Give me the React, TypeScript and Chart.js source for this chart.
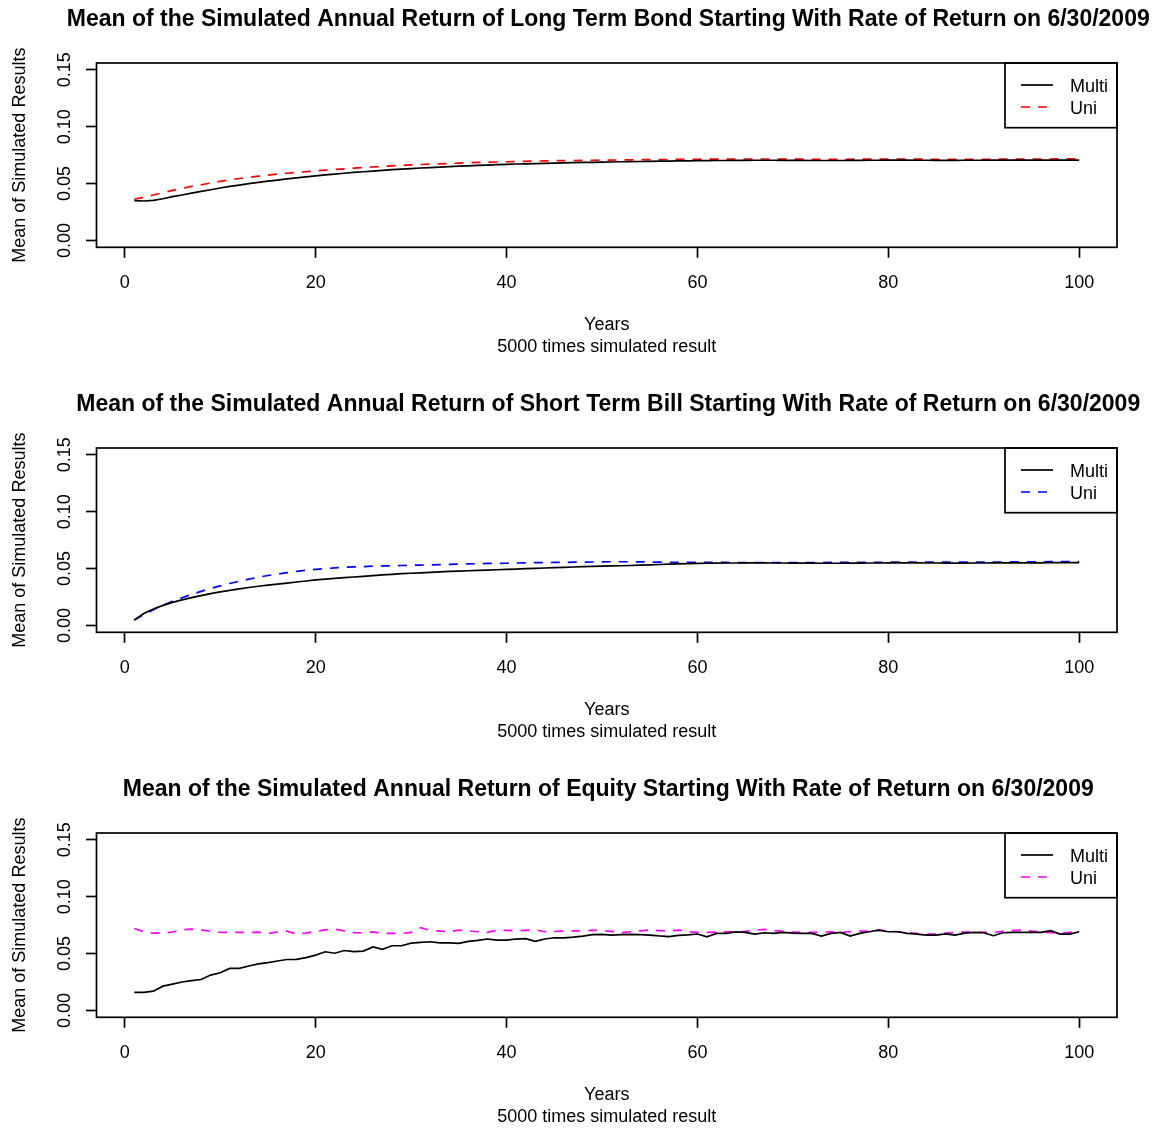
import React, { useEffect, useRef } from "react";
import { Chart, registerables } from "chart.js";

Chart.register(...registerables);

const FONT = "'Liberation Sans', Arial, Helvetica, sans-serif";

const years = Array.from({ length: 100 }, (_, i) => i + 1);
const xTicks = [0, 20, 40, 60, 80, 100];
const yTicks = [0, 0.05, 0.1, 0.15];
const xRange = [-2.96, 103.96];
const yRange = [-0.006, 0.156];

const seriesLabels = ["Multi", "Uni"];
const yAxisTitle = "Mean of Simulated Results";
const xAxisTitle = ["Years", "5000 times simulated result"];

const panelTitles = [
  "Mean of the Simulated Annual Return of Long Term Bond Starting With Rate of Return on 6/30/2009",
  "Mean of the Simulated Annual Return of Short Term Bill Starting With Rate of Return on 6/30/2009",
  "Mean of the Simulated Annual Return of Equity Starting With Rate of Return on 6/30/2009",
];
const uniColors = ["#FF0000", "#0000FF", "#FF00FF"];

const bondMulti = [
  0.0350, 0.0347, 0.0353, 0.0367, 0.0385, 0.0400, 0.0416, 0.0431, 0.0446, 0.0461,
  0.0475, 0.0487, 0.0499, 0.0510, 0.0521, 0.0531, 0.0541, 0.0550, 0.0559, 0.0568,
  0.0576, 0.0584, 0.0591, 0.0598, 0.0604, 0.0610, 0.0616, 0.0622, 0.0627, 0.0632,
  0.0637, 0.0641, 0.0645, 0.0649, 0.0653, 0.0656, 0.0660, 0.0663, 0.0666, 0.0669,
  0.0672, 0.0674, 0.0676, 0.0678, 0.0680, 0.0682, 0.0684, 0.0686, 0.0687, 0.0689,
  0.0690, 0.0692, 0.0693, 0.0694, 0.0696, 0.0697, 0.0698, 0.0699, 0.0700, 0.0701,
  0.0702, 0.0703, 0.0703, 0.0704, 0.0704, 0.0705, 0.0705, 0.0705, 0.0704, 0.0704,
  0.0704, 0.0703, 0.0703, 0.0703, 0.0703, 0.0704, 0.0704, 0.0705, 0.0705, 0.0706,
  0.0706, 0.0706, 0.0705, 0.0705, 0.0704, 0.0704, 0.0704, 0.0705, 0.0705, 0.0705,
  0.0706, 0.0706, 0.0706, 0.0707, 0.0707, 0.0707, 0.0707, 0.0707, 0.0707, 0.0707,
];

const bondUni = [
  0.0362, 0.0380, 0.0400, 0.0420, 0.0440, 0.0458, 0.0475, 0.0490, 0.0505, 0.0520,
  0.0533, 0.0545, 0.0555, 0.0565, 0.0574, 0.0583, 0.0591, 0.0598, 0.0605, 0.0612,
  0.0618, 0.0624, 0.0630, 0.0636, 0.0641, 0.0646, 0.0651, 0.0656, 0.0660, 0.0664,
  0.0668, 0.0671, 0.0674, 0.0677, 0.0680, 0.0683, 0.0686, 0.0688, 0.0690, 0.0692,
  0.0694, 0.0696, 0.0698, 0.0699, 0.0701, 0.0702, 0.0703, 0.0704, 0.0705, 0.0706,
  0.0707, 0.0708, 0.0709, 0.0710, 0.0711, 0.0711, 0.0712, 0.0713, 0.0713, 0.0714,
  0.0715, 0.0715, 0.0715, 0.0716, 0.0716, 0.0716, 0.0716, 0.0716, 0.0715, 0.0715,
  0.0715, 0.0714, 0.0714, 0.0714, 0.0714, 0.0714, 0.0715, 0.0715, 0.0715, 0.0716,
  0.0716, 0.0716, 0.0715, 0.0714, 0.0713, 0.0713, 0.0713, 0.0713, 0.0714, 0.0714,
  0.0714, 0.0715, 0.0715, 0.0715, 0.0716, 0.0716, 0.0716, 0.0717, 0.0717, 0.0717,
];

const billMulti = [
  0.0048, 0.0105, 0.0145, 0.0177, 0.0203, 0.0225, 0.0245, 0.0263, 0.0280, 0.0295,
  0.0309, 0.0322, 0.0334, 0.0345, 0.0355, 0.0364, 0.0373, 0.0382, 0.0391, 0.0400,
  0.0407, 0.0414, 0.0420, 0.0426, 0.0432, 0.0438, 0.0444, 0.0450, 0.0455, 0.0459,
  0.0463, 0.0467, 0.0471, 0.0475, 0.0478, 0.0481, 0.0484, 0.0487, 0.0490, 0.0493,
  0.0496, 0.0499, 0.0502, 0.0505, 0.0508, 0.0511, 0.0514, 0.0517, 0.0519, 0.0521,
  0.0523, 0.0525, 0.0527, 0.0530, 0.0533, 0.0536, 0.0539, 0.0542, 0.0544, 0.0546,
  0.0547, 0.0548, 0.0549, 0.0549, 0.0550, 0.0550, 0.0550, 0.0549, 0.0549, 0.0548,
  0.0548, 0.0548, 0.0547, 0.0547, 0.0547, 0.0548, 0.0548, 0.0549, 0.0549, 0.0550,
  0.0550, 0.0550, 0.0550, 0.0549, 0.0549, 0.0548, 0.0548, 0.0548, 0.0549, 0.0549,
  0.0550, 0.0550, 0.0550, 0.0551, 0.0551, 0.0551, 0.0552, 0.0552, 0.0552, 0.0552,
];

const billUni = [
  0.0048, 0.0095, 0.0138, 0.0177, 0.0212, 0.0244, 0.0273, 0.0300, 0.0325, 0.0348,
  0.0369, 0.0389, 0.0407, 0.0424, 0.0439, 0.0452, 0.0464, 0.0475, 0.0485, 0.0493,
  0.0500, 0.0506, 0.0511, 0.0515, 0.0518, 0.0521, 0.0523, 0.0525, 0.0527, 0.0529,
  0.0531, 0.0533, 0.0535, 0.0537, 0.0539, 0.0541, 0.0543, 0.0545, 0.0546, 0.0547,
  0.0549, 0.0550, 0.0552, 0.0553, 0.0554, 0.0555, 0.0556, 0.0557, 0.0558, 0.0559,
  0.0560, 0.0560, 0.0560, 0.0559, 0.0558, 0.0557, 0.0556, 0.0555, 0.0555, 0.0555,
  0.0555, 0.0554, 0.0554, 0.0553, 0.0553, 0.0553, 0.0553, 0.0553, 0.0553, 0.0553,
  0.0553, 0.0553, 0.0553, 0.0554, 0.0554, 0.0554, 0.0555, 0.0555, 0.0555, 0.0556,
  0.0556, 0.0556, 0.0556, 0.0556, 0.0556, 0.0556, 0.0557, 0.0557, 0.0557, 0.0558,
  0.0558, 0.0558, 0.0559, 0.0559, 0.0560, 0.0560, 0.0561, 0.0561, 0.0561, 0.0561,
];

const equityMulti = [
  0.0159, 0.0159, 0.0170, 0.0214, 0.0232, 0.0250, 0.0262, 0.0272, 0.0311, 0.0332,
  0.0370, 0.0370, 0.0391, 0.0409, 0.0421, 0.0435, 0.0448, 0.0449, 0.0465, 0.0487,
  0.0516, 0.0503, 0.0527, 0.0517, 0.0522, 0.0558, 0.0537, 0.0569, 0.0569, 0.0592,
  0.0598, 0.0604, 0.0595, 0.0595, 0.0590, 0.0607, 0.0616, 0.0628, 0.0619, 0.0619,
  0.0628, 0.0631, 0.0607, 0.0628, 0.0639, 0.0639, 0.0645, 0.0654, 0.0666, 0.0669,
  0.0663, 0.0666, 0.0669, 0.0666, 0.0663, 0.0655, 0.0650, 0.0660, 0.0665, 0.0672,
  0.0648, 0.0677, 0.0677, 0.0690, 0.0686, 0.0672, 0.0683, 0.0677, 0.0686, 0.0680,
  0.0677, 0.0677, 0.0654, 0.0677, 0.0686, 0.0654, 0.0677, 0.0692, 0.0707, 0.0692,
  0.0692, 0.0677, 0.0671, 0.0663, 0.0663, 0.0674, 0.0663, 0.0680, 0.0686, 0.0683,
  0.0657, 0.0683, 0.0686, 0.0686, 0.0686, 0.0686, 0.0701, 0.0671, 0.0671, 0.0692,
];

const equityUni = [
  0.0720, 0.0692, 0.0680, 0.0680, 0.0690, 0.0710, 0.0715, 0.0708, 0.0696, 0.0688,
  0.0686, 0.0686, 0.0686, 0.0688, 0.0676, 0.0690, 0.0698, 0.0672, 0.0680, 0.0695,
  0.0708, 0.0715, 0.0700, 0.0685, 0.0680, 0.0690, 0.0676, 0.0678, 0.0677, 0.0686,
  0.0727, 0.0705, 0.0698, 0.0692, 0.0707, 0.0700, 0.0692, 0.0686, 0.0704, 0.0704,
  0.0700, 0.0704, 0.0709, 0.0692, 0.0695, 0.0698, 0.0700, 0.0698, 0.0707, 0.0702,
  0.0695, 0.0683, 0.0692, 0.0700, 0.0707, 0.0702, 0.0698, 0.0707, 0.0692, 0.0686,
  0.0686, 0.0688, 0.0692, 0.0692, 0.0695, 0.0705, 0.0713, 0.0702, 0.0695, 0.0690,
  0.0686, 0.0686, 0.0688, 0.0692, 0.0686, 0.0692, 0.0698, 0.0698, 0.0707, 0.0700,
  0.0692, 0.0686, 0.0677, 0.0671, 0.0671, 0.0680, 0.0686, 0.0690, 0.0692, 0.0686,
  0.0686, 0.0695, 0.0702, 0.0707, 0.0698, 0.0690, 0.0684, 0.0677, 0.0686, 0.0698,
];

const panels = [
  { title: panelTitles[0], multi: bondMulti, uni: bondUni, color: uniColors[0] },
  { title: panelTitles[1], multi: billMulti, uni: billUni, color: uniColors[1] },
  { title: panelTitles[2], multi: equityMulti, uni: equityUni, color: uniColors[2] },
];

const CANVAS_W = 1163;
const CANVAS_H = 362;
const PANEL_STEP = 385;
const LINE_W = 1.7;

const decorPlugin = {
  id: "panelDecor",
  afterDraw(chart: any, _args: any, opts: any) {
    const { ctx, chartArea } = chart;
    const { left, right, top, bottom } = chartArea;
    ctx.save();
    // plot box
    ctx.strokeStyle = "#000";
    ctx.lineWidth = LINE_W;
    ctx.setLineDash([]);
    ctx.strokeRect(left, top, right - left, bottom - top);

    // title
    ctx.fillStyle = "#000";
    ctx.font = `bold 23px ${FONT}`;
    ctx.textAlign = "center";
    ctx.textBaseline = "middle";
    ctx.fillText(opts.title, (left + right) / 2 + 1.5, 20);

    // legend
    const lw = 112;
    const lh = 64.7;
    const lx = right - lw;
    ctx.strokeRect(lx, top, lw, lh);
    ctx.font = `18px ${FONT}`;
    ctx.textAlign = "left";
    chart.data.datasets.forEach((ds: any, i: number) => {
      const y = top + 22 + i * 22;
      ctx.beginPath();
      ctx.strokeStyle = ds.borderColor;
      ctx.lineWidth = ds.borderWidth;
      ctx.setLineDash(ds.borderDash || []);
      ctx.moveTo(lx + 16, y);
      ctx.lineTo(lx + 48, y);
      ctx.stroke();
      ctx.fillStyle = "#000";
      ctx.fillText(ds.label, lx + 65, y + 1.8);
    });
    ctx.restore();
  },
};

function Panel({ cfg, top }: { cfg: any; top: number }) {
  const ref = useRef<HTMLCanvasElement>(null);
  useEffect(() => {
    const gridOpts = {
      display: true,
      drawOnChartArea: false,
      drawTicks: true,
      tickLength: 10.5,
      tickWidth: LINE_W,
      tickColor: "#000",
    };
    const chart = new Chart(ref.current as HTMLCanvasElement, {
      type: "line",
      data: {
        datasets: [
          {
            label: seriesLabels[0],
            data: years.map((x, i) => ({ x, y: cfg.multi[i] })),
            borderColor: "#000000",
            borderWidth: LINE_W,
            pointRadius: 0,
            fill: false,
            tension: 0,
          },
          {
            label: seriesLabels[1],
            data: years.map((x, i) => ({ x, y: cfg.uni[i] })),
            borderColor: cfg.color,
            borderWidth: LINE_W,
            borderDash: [9, 8],
            pointRadius: 0,
            fill: false,
            tension: 0,
          },
        ],
      },
      options: {
        responsive: false,
        animation: false,
        events: [],
        layout: { padding: { left: 0, right: 46, top: 63, bottom: 4 }, autoPadding: false },
        plugins: {
          legend: { display: false },
          title: { display: false },
          tooltip: { enabled: false },
          panelDecor: { title: cfg.title },
        } as any,
        scales: {
          x: {
            type: "linear",
            min: xRange[0],
            max: xRange[1],
            afterBuildTicks: (s: any) => {
              s.ticks = xTicks.map((v) => ({ value: v }));
            },
            afterFit: (s: any) => {
              s.height = 110.7;
            },
            grid: gridOpts,
            border: { display: false },
            ticks: {
              color: "#000",
              font: { family: FONT, size: 18 },
              padding: 14,
              minRotation: 0,
              maxRotation: 0,
              autoSkip: false,
              callback: (v: any) => String(v),
            },
            title: {
              display: true,
              text: xAxisTitle,
              color: "#000",
              font: { family: FONT, size: 18, lineHeight: 22 / 18 },
              padding: { top: 0, bottom: 0 },
            },
          },
          y: {
            type: "linear",
            min: yRange[0],
            max: yRange[1],
            afterBuildTicks: (s: any) => {
              s.ticks = yTicks.map((v) => ({ value: v }));
            },
            afterFit: (s: any) => {
              s.width = 96.5;
            },
            grid: gridOpts,
            border: { display: false },
            ticks: {
              color: "#000",
              font: { family: FONT, size: 18 },
              padding: 3.5,
              minRotation: 90,
              maxRotation: 90,
              crossAlign: "center",
              autoSkip: false,
              callback: (v: any) => Number(v).toFixed(2),
            },
            title: {
              display: true,
              text: yAxisTitle,
              color: "#000",
              font: { family: FONT, size: 18 },
              padding: { top: 9.2, bottom: 0 },
            },
          },
        } as any,
      },
      plugins: [decorPlugin],
    } as any);
    return () => chart.destroy();
  }, [cfg]);
  return (
    <canvas
      ref={ref}
      width={CANVAS_W}
      height={CANVAS_H}
      style={{ position: "absolute", left: 0, top, width: CANVAS_W, height: CANVAS_H }}
    />
  );
}

export default function App() {
  return (
    <div
      style={{
        position: "absolute",
        left: 0,
        top: 0,
        width: 1163,
        height: 1131,
        overflow: "hidden",
        background: "#ffffff",
      }}
    >
      {panels.map((p, i) => (
        <Panel key={i} cfg={p} top={i * PANEL_STEP} />
      ))}
    </div>
  );
}
